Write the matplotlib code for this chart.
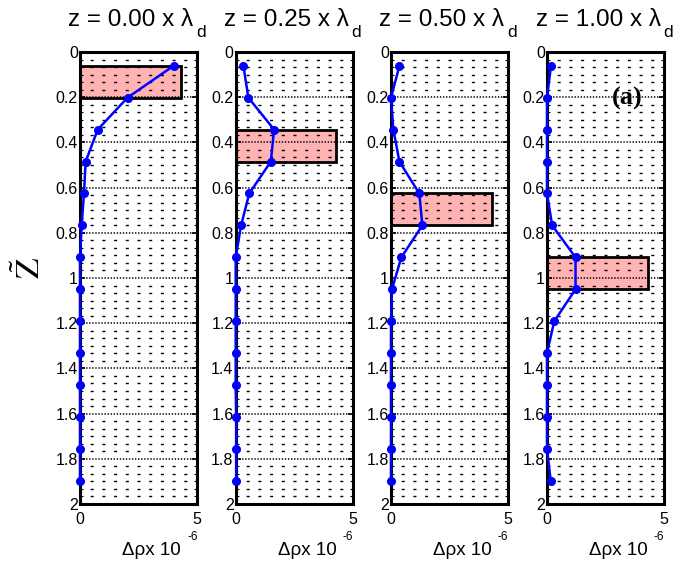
import matplotlib
matplotlib.use('Agg')
import matplotlib.pyplot as plt
from matplotlib.ticker import MultipleLocator, FixedLocator, FixedFormatter
from matplotlib.patches import Rectangle

plt.rcParams['font.family'] = ['Liberation Sans', 'DejaVu Sans']
plt.rcParams['lines.scale_dashes'] = False

# ---------------- data ----------------
depth = [0.061, 0.202, 0.343, 0.485, 0.626, 0.767, 0.909,
         1.050, 1.191, 1.333, 1.474, 1.615, 1.757, 1.898]
panel_z = ['0.00', '0.25', '0.50', '1.00']
drho_p1 = [4.00, 2.03, 0.76, 0.24, 0.17, 0.07, 0.0, 0.0, 0.0, 0.0, 0.0, 0.0, 0.0, 0.0]
drho_p2 = [0.33, 0.54, 1.64, 1.50, 0.58, 0.23, 0.0, 0.0, 0.0, 0.0, 0.0, 0.02, 0.02, 0.02]
drho_p3 = [0.36, 0.00, 0.10, 0.36, 1.21, 1.34, 0.44, 0.04, 0.0, 0.0, 0.0, 0.0, 0.0, 0.0]
drho_p4 = [0.17, 0.00, 0.00, 0.00, 0.00, 0.22, 1.22, 1.22, 0.31, 0.0, 0.0, 0.0, 0.0, 0.16]
drho = [drho_p1, drho_p2, drho_p3, drho_p4]
slab_top = [0.061, 0.343, 0.626, 0.909]
slab_bottom = [0.202, 0.485, 0.767, 1.050]
slab_width = 4.3
ytick_vals = [0, 0.2, 0.4, 0.6, 0.8, 1.0, 1.2, 1.4, 1.6, 1.8, 2.0]
ytick_labels = ['0', '0.2', '0.4', '0.6', '0.8', '1', '1.2', '1.4', '1.6', '1.8', '2']
xtick_vals = [0, 5]
xtick_labels = ['0', '5']

# ---------------- layout ----------------
FW, FH = 676, 563
fig = plt.figure(figsize=(FW / 100, FH / 100), dpi=100)
lefts = [80, 235.7, 391, 547]
ax_w, ax_top, ax_bot = 117, 52, 504


def fx(px):
    return px / FW


def fy(py):
    return 1 - py / FH


# dash pattern for minor grid (short dashes every 0.5 units of x)
period_pt = (ax_w / 10) * 72 / 100
dash_pt = 2.2
minor_ls = (dash_pt / 2, (dash_pt, period_pt - dash_pt))

for i, L in enumerate(lefts):
    ax = fig.add_axes([fx(L), fy(ax_bot), ax_w / FW, (ax_bot - ax_top) / FH])
    ax.set_xlim(0, 5)
    ax.set_ylim(2, 0)
    ax.add_patch(Rectangle((0, slab_top[i]), slab_width, slab_bottom[i] - slab_top[i],
                           facecolor='#ffb3b3', edgecolor='black', lw=2.0, zorder=1))
    ax.plot(drho[i], depth, '-o', color='#0000ff', lw=1.8, ms=5.5,
            clip_on=False, zorder=3)
    ax.set_axisbelow('line')

    ax.yaxis.set_major_locator(FixedLocator(ytick_vals))
    ax.yaxis.set_major_formatter(FixedFormatter(ytick_labels))
    ax.yaxis.set_minor_locator(MultipleLocator(0.2 / 6))
    ax.xaxis.set_major_locator(FixedLocator(xtick_vals))
    ax.xaxis.set_major_formatter(FixedFormatter(xtick_labels))

    ax.yaxis.grid(True, which='minor', color='black', lw=1.0, linestyle=minor_ls)
    ax.yaxis.grid(True, which='major', color='black', lw=1.1, linestyle=(0, (1.0, 1.2)))

    for s in ax.spines.values():
        s.set_linewidth(2.2)
    ax.tick_params(which='both', direction='in', top=True, right=True, labelsize=11.5)
    ax.tick_params(which='major', length=3.5, width=1.2)
    ax.tick_params(which='minor', length=2, width=0.8)
    ax.tick_params(axis='y', pad=1.5)
    ax.tick_params(axis='x', pad=6)

    # title: z = ... x lambda_d
    fig.text(fx(L - 11.5), fy(26), 'z = %s x λ' % panel_z[i], fontsize=17.5,
             ha='left', va='baseline')
    fig.text(fx(L + 116), fy(37), 'd', fontsize=12.5, ha='left', va='baseline')

    # x label
    fig.text(fx(L + 42), fy(555), 'Δρx 10', fontsize=13.5, ha='left', va='baseline')
    fig.text(fx(L + 107), fy(540), '-6', fontsize=8.5, ha='left', va='baseline')

    if i == 3:
        ax.text(3.44, 0.204, '(a)', fontsize=19, fontweight='bold',
                family='Liberation Serif', ha='center', va='center', zorder=4)

fig.text(fx(30), fy(268), r'$\tilde{\mathrm{Z}}$', rotation=90, fontsize=24,
         math_fontfamily='stix', ha='center', va='center')

fig.savefig('out.png', dpi=100)
